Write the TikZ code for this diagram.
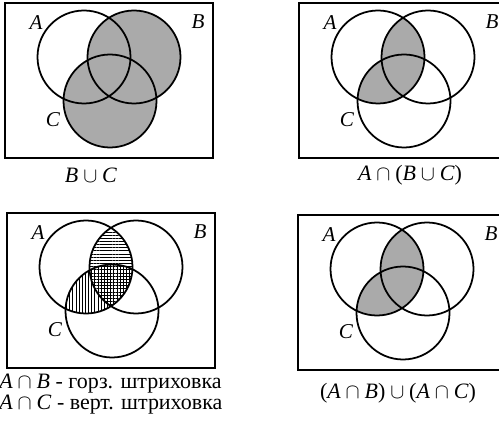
\documentclass[tikz,border=0pt]{standalone}
\usepackage{fontspec}
\setmainfont{Liberation Serif}
\usepackage{tikz}
\usetikzlibrary{patterns.meta}
\definecolor{ShadeFill}{RGB}{170,170,170}
\definecolor{SetLine}  {RGB}{0,0,0}
\tikzset{
  set_line/.style={draw=SetLine,line width=1pt},
  frame_line/.style={draw=SetLine,line width=0.8pt},
  set_lbl/.style={font=\fontsize{12}{13}\selectfont\itshape,inner sep=0pt},
  cap_lbl/.style={font=\fontsize{12.5}{14}\selectfont,inner sep=0pt},
  shade_fill/.style={fill=ShadeFill},
  hatch_h/.style={pattern={Lines[angle=0,distance=1.8pt,line width=0.45pt]}},
  hatch_v/.style={pattern={Lines[angle=90,distance=1.8pt,line width=0.45pt]}},
}
\def\setA{(84,57) circle[radius=46.5]}
\def\setB{(134,57) circle[radius=46.5]}
\def\setC{(110,101) circle[radius=46.5]}
\newcommand{\vennsets}[1]{%
  \draw[set_line] \setA; \draw[set_line] \setB; \draw[set_line] \setC;
  \draw[frame_line] (5,3) rectangle (213,158);
  \node[set_lbl] (#1a) at (36,23) {A};
  \node[set_lbl] (#1b) at (198,22) {B};
  \node[set_lbl] (#1c) at (53,120) {C};}

\begin{document}
\begin{tikzpicture}[x=0.02cm,y=-0.02cm]
\useasboundingbox (0,0) rectangle (499,428);
% B u C
\begin{scope}
  \fill[shade_fill] \setB; \fill[shade_fill] \setC;
  \vennsets{p}
  \node[cap_lbl] (pcap) at (91,175) {\textit{B}\:$\cup$\:\textit{C}};
\end{scope}
% A n (B u C)
\begin{scope}[shift={(294,0)}]
  \begin{scope}
    \clip \setA; \fill[shade_fill] \setB; \fill[shade_fill] \setC;
  \end{scope}
  \vennsets{q}
  \node[cap_lbl] (qcap) at (116,175) {\textit{A}\:$\cap$\:(\textit{B}\:$\cup$\:\textit{C})};
\end{scope}
% hatching
\begin{scope}[shift={(2,210)}]
  \begin{scope}
    \clip \setA; \fill[hatch_h] \setB; \fill[hatch_v] \setC;
  \end{scope}
  \vennsets{r}
  \node[cap_lbl,anchor=west,align=left,font=\fontsize{12.5}{10.6}\selectfont] (rcap) at (-3,184)
    {\textit{A}\:$\cap$\:\textit{B} - горз. штриховка\\\textit{A}\:$\cap$\:\textit{C} - верт. штриховка};
\end{scope}
% (A n B) u (A n C)
\begin{scope}[shift={(293,212)}]
  \begin{scope}
    \clip \setA; \fill[shade_fill] \setB; \fill[shade_fill] \setC;
  \end{scope}
  \vennsets{s}
  \node[cap_lbl] (scap) at (105,181) {(\textit{A}\:$\cap$\:\textit{B})\:$\cup$\:(\textit{A}\:$\cap$\:\textit{C})};
\end{scope}
\end{tikzpicture}
\end{document}
